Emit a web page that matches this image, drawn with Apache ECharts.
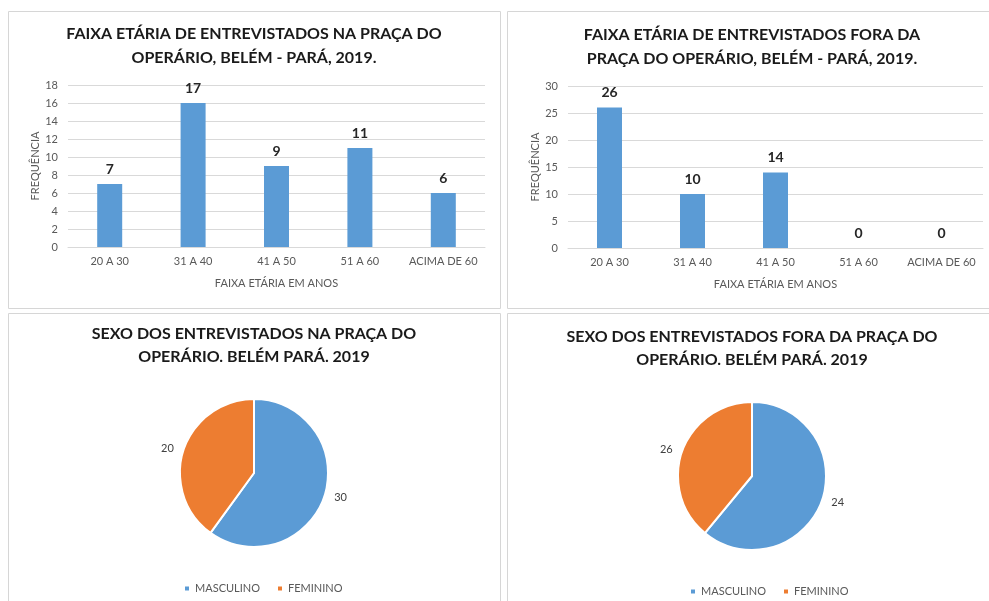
<!DOCTYPE html>
<html>
<head>
<meta charset="utf-8">
<script src="https://cdn.jsdelivr.net/npm/echarts@6/dist/echarts.min.js"></script>
<style>
  html, body { margin: 0; padding: 0; background: #fff; }
  #chart { width: 989px; height: 601px; }
</style>
</head>
<body>
<div id="chart"></div>
<script>
// faixa etária
var ageCategories = ['20 A 30', '31 A 40', '41 A 50', '51 A 60', 'ACIMA DE 60'];
var agePracaBars = [7, 16, 9, 11, 6];      // altura desenhada
var agePracaLabels = [7, 17, 9, 11, 6];    // rótulo escrito
var ageForaBars = [26, 10, 14, 0, 0];
var ageForaLabels = [26, 10, 14, 0, 0];
var pracaTicks = [0, 18, 2];  // min, max, intervalo
var foraTicks = [0, 30, 5];

// sexo
var sexNames = ['MASCULINO', 'FEMININO'];
var sexPracaSlices = [30, 20];
var sexPracaLabels = ['30', '20'];
var sexForaSlices = [61, 39];   // fatia desenhada
var sexForaLabels = ['24', '26'];

var BLUE = '#5b9bd5', ORANGE = '#ed7d31';
var FONT = 'Lato';
var grey = '#595959';

function titleText(x, y, txt) {
  return {
    type: 'text', x: x, y: y,
    style: { text: txt, font: 'bold 16px ' + FONT, fill: '#1a1a1a', align: 'center', verticalAlign: 'middle' }
  };
}
function panel(x, y, w, h) {
  return { type: 'rect', shape: { x: x + 0.5, y: y + 0.5, width: w, height: h },
    style: { fill: 'none', stroke: '#d6d6d6', lineWidth: 1 }, z: -1 };
}

function yAxisOf(ticks, gridIndex) {
  return {
    type: 'value', gridIndex: gridIndex, min: ticks[0], max: ticks[1], interval: ticks[2],
    name: 'FREQUÊNCIA', nameLocation: 'middle', nameGap: 27,
    nameTextStyle: { fontFamily: FONT, fontSize: 11, color: grey },
    axisLine: { show: false }, axisTick: { show: false },
    axisLabel: { fontFamily: FONT, fontSize: 11, color: grey, margin: 10 },
    splitLine: { lineStyle: { color: '#d9d9d9', width: 1 } }
  };
}
function xAxisOf(gridIndex) {
  return {
    type: 'category', gridIndex: gridIndex, data: ageCategories,
    name: 'FAIXA ETÁRIA EM ANOS', nameLocation: 'middle', nameGap: 31,
    nameTextStyle: { fontFamily: FONT, fontSize: 11, color: grey },
    axisTick: { show: false },
    axisLine: { lineStyle: { color: '#d9d9d9', width: 1 } },
    axisLabel: { fontFamily: FONT, fontSize: 11, color: grey, margin: 9, interval: 0 }
  };
}
function barSeries(values, labels, idx) {
  return {
    type: 'bar', xAxisIndex: idx, yAxisIndex: idx, data: values, barWidth: 25,
    itemStyle: { color: BLUE },
    label: { show: true, position: 'top', distance: 8, fontFamily: FONT, fontSize: 14, fontWeight: 'bold', color: '#262626',
      formatter: function (p) { return String(labels[p.dataIndex]); } }
  };
}
function pieSeries(slices, labels, center) {
  return {
    type: 'pie', center: center, radius: 74, startAngle: 90, clockwise: true,
    data: sexNames.map(function (n, i) { return { name: n, value: slices[i] }; }),
    color: [BLUE, ORANGE],
    itemStyle: { borderColor: '#fff', borderWidth: 2 },
    label: { show: true, position: 'outside', fontFamily: FONT, fontSize: 11, color: '#404040',
      formatter: function (p) { return labels[p.dataIndex]; } },
    labelLine: { show: false, length: 5, length2: 0 },
    emphasis: { disabled: true }
  };
}
function legendOf(left, top) {
  return {
    left: left, top: top, data: sexNames, icon: 'rect', itemWidth: 6, itemHeight: 6, itemGap: 16,
    textStyle: { fontFamily: FONT, fontSize: 11, color: grey }, selectedMode: false
  };
}

var chart = echarts.init(document.getElementById('chart'));
chart.setOption({
  animation: false,
  color: [BLUE, ORANGE],
  grid: [
    { left: 68, right: 504, top: 85, bottom: 354 },
    { left: 568, right: 6, top: 86, bottom: 353 }
  ],
  xAxis: [xAxisOf(0), xAxisOf(1)],
  yAxis: [yAxisOf(pracaTicks, 0), yAxisOf(foraTicks, 1)],
  legend: [legendOf(178, 578), legendOf(684, 581)],
  series: [
    barSeries(agePracaBars, agePracaLabels, 0),
    barSeries(ageForaBars, ageForaLabels, 1),
    pieSeries(sexPracaSlices, sexPracaLabels, [254, 473]),
    pieSeries(sexForaSlices, sexForaLabels, [752, 476])
  ],
  graphic: [
    panel(8, 11, 492, 297),
    panel(507, 11, 490, 297),
    panel(8, 313, 492, 300),
    panel(507, 313, 490, 300),
    titleText(254, 34, 'FAIXA ETÁRIA DE ENTREVISTADOS NA PRAÇA DO'),
    titleText(254, 58, 'OPERÁRIO, BELÉM - PARÁ, 2019.'),
    titleText(752, 35, 'FAIXA ETÁRIA DE ENTREVISTADOS FORA DA'),
    titleText(752, 59, 'PRAÇA DO OPERÁRIO, BELÉM - PARÁ, 2019.'),
    titleText(254, 334, 'SEXO DOS ENTREVISTADOS NA PRAÇA DO'),
    titleText(254, 357, 'OPERÁRIO. BELÉM PARÁ. 2019'),
    titleText(752, 337, 'SEXO DOS ENTREVISTADOS FORA DA PRAÇA DO'),
    titleText(752, 360, 'OPERÁRIO. BELÉM PARÁ. 2019')
  ]
});
</script>
</body>
</html>
